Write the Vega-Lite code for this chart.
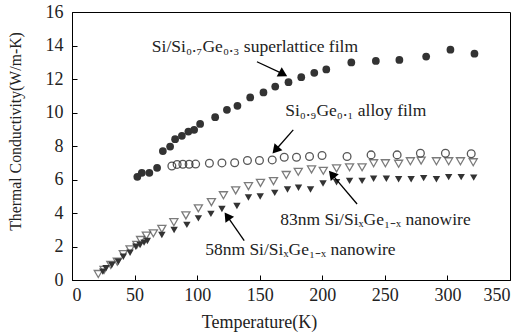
{
  "$schema": "https://vega.github.io/schema/vega-lite/v6.json",
  "width": 438,
  "height": 268,
  "autosize": "none",
  "padding": {"left": 72, "top": 12, "right": 14, "bottom": 52},
  "background": "white",
  "config": {
    "view": {"stroke": "#000", "strokeWidth": 1},
    "font": "Liberation Serif",
    "axis": {"grid": false, "domainColor": "#000", "tickColor": "#000", "labelColor": "#222", "titleColor": "#222", "labelFont": "Liberation Serif", "titleFont": "Liberation Serif", "labelFontSize": 18, "titleFontSize": 17, "titleFontWeight": "normal", "tickSize": -5, "labelPadding": 12}
  },
  "datasets": {
    "pts": [
      {"s": "SL", "T": 52.2, "k": 6.16}, {"s": "SL", "T": 55.8, "k": 6.4}, {"s": "SL", "T": 61.8, "k": 6.4}, {"s": "SL", "T": 68, "k": 6.7},
      {"s": "SL", "T": 72.6, "k": 7.7}, {"s": "SL", "T": 78.4, "k": 7.97}, {"s": "SL", "T": 82.4, "k": 8.41}, {"s": "SL", "T": 87.8, "k": 8.61},
      {"s": "SL", "T": 93, "k": 8.86}, {"s": "SL", "T": 97.6, "k": 8.97}, {"s": "SL", "T": 102.4, "k": 9.32}, {"s": "SL", "T": 114.4, "k": 9.72},
      {"s": "SL", "T": 123.8, "k": 10.16}, {"s": "SL", "T": 132.2, "k": 10.4}, {"s": "SL", "T": 142.4, "k": 10.9}, {"s": "SL", "T": 153, "k": 11.2},
      {"s": "SL", "T": 162.4, "k": 11.55}, {"s": "SL", "T": 173, "k": 11.81}, {"s": "SL", "T": 183.2, "k": 12.11}, {"s": "SL", "T": 193.6, "k": 12.37},
      {"s": "SL", "T": 203.2, "k": 12.57}, {"s": "SL", "T": 223.2, "k": 12.99}, {"s": "SL", "T": 242.8, "k": 13.08}, {"s": "SL", "T": 261.6, "k": 13.14},
      {"s": "SL", "T": 283, "k": 13.34}, {"s": "SL", "T": 302.4, "k": 13.75}, {"s": "SL", "T": 321.6, "k": 13.51},
      {"s": "AL", "T": 79.8, "k": 6.81}, {"s": "AL", "T": 84, "k": 6.9}, {"s": "AL", "T": 88.6, "k": 6.91}, {"s": "AL", "T": 93.6, "k": 6.91},
      {"s": "AL", "T": 98.8, "k": 6.92}, {"s": "AL", "T": 109.8, "k": 6.97}, {"s": "AL", "T": 119.8, "k": 6.99}, {"s": "AL", "T": 130, "k": 7.0},
      {"s": "AL", "T": 140.2, "k": 7.13}, {"s": "AL", "T": 149.8, "k": 7.13}, {"s": "AL", "T": 160, "k": 7.17}, {"s": "AL", "T": 169.6, "k": 7.33},
      {"s": "AL", "T": 179.4, "k": 7.33}, {"s": "AL", "T": 189.8, "k": 7.37}, {"s": "AL", "T": 199.8, "k": 7.43}, {"s": "AL", "T": 219.8, "k": 7.37},
      {"s": "AL", "T": 239, "k": 7.47}, {"s": "AL", "T": 259.8, "k": 7.47}, {"s": "AL", "T": 278.4, "k": 7.57}, {"s": "AL", "T": 298.4, "k": 7.57},
      {"s": "AL", "T": 319, "k": 7.54},
      {"s": "N83", "T": 21, "k": 0.36}, {"s": "N83", "T": 25.6, "k": 0.6}, {"s": "N83", "T": 31, "k": 0.9}, {"s": "N83", "T": 36.2, "k": 1.09},
      {"s": "N83", "T": 41, "k": 1.55}, {"s": "N83", "T": 46.4, "k": 1.83}, {"s": "N83", "T": 51.8, "k": 2.1}, {"s": "N83", "T": 54.8, "k": 2.39},
      {"s": "N83", "T": 59.4, "k": 2.65}, {"s": "N83", "T": 65, "k": 2.79}, {"s": "N83", "T": 71.8, "k": 3.05}, {"s": "N83", "T": 81.4, "k": 3.45},
      {"s": "N83", "T": 91, "k": 3.86}, {"s": "N83", "T": 101, "k": 4.28}, {"s": "N83", "T": 111.4, "k": 4.65}, {"s": "N83", "T": 121, "k": 5.06},
      {"s": "N83", "T": 130.8, "k": 5.35}, {"s": "N83", "T": 141, "k": 5.6}, {"s": "N83", "T": 150.6, "k": 5.8}, {"s": "N83", "T": 161, "k": 5.9},
      {"s": "N83", "T": 171.2, "k": 6.27}, {"s": "N83", "T": 180.8, "k": 6.46}, {"s": "N83", "T": 191.4, "k": 6.6}, {"s": "N83", "T": 200.8, "k": 6.52},
      {"s": "N83", "T": 211.4, "k": 6.66}, {"s": "N83", "T": 221.8, "k": 6.73}, {"s": "N83", "T": 231.8, "k": 6.73}, {"s": "N83", "T": 241, "k": 6.97},
      {"s": "N83", "T": 250.4, "k": 6.97}, {"s": "N83", "T": 261, "k": 6.94}, {"s": "N83", "T": 270.4, "k": 7.09}, {"s": "N83", "T": 279, "k": 7.13},
      {"s": "N83", "T": 291.2, "k": 7.09}, {"s": "N83", "T": 301, "k": 7.09}, {"s": "N83", "T": 310.4, "k": 7.09}, {"s": "N83", "T": 320.6, "k": 7.03},
      {"s": "N58", "T": 24.6, "k": 0.5}, {"s": "N58", "T": 27.2, "k": 0.7}, {"s": "N58", "T": 31.8, "k": 0.9}, {"s": "N58", "T": 37, "k": 1.09},
      {"s": "N58", "T": 41, "k": 1.39}, {"s": "N58", "T": 46.4, "k": 1.63}, {"s": "N58", "T": 51, "k": 1.99}, {"s": "N58", "T": 54.4, "k": 2.09},
      {"s": "N58", "T": 57.6, "k": 2.23}, {"s": "N58", "T": 60.2, "k": 2.33}, {"s": "N58", "T": 71.8, "k": 2.69}, {"s": "N58", "T": 81.6, "k": 2.99},
      {"s": "N58", "T": 91.8, "k": 3.29}, {"s": "N58", "T": 101, "k": 3.68}, {"s": "N58", "T": 111, "k": 3.95}, {"s": "N58", "T": 119.8, "k": 4.24},
      {"s": "N58", "T": 131.8, "k": 4.42}, {"s": "N58", "T": 141, "k": 4.93}, {"s": "N58", "T": 150.4, "k": 4.98}, {"s": "N58", "T": 162, "k": 5.2},
      {"s": "N58", "T": 172.2, "k": 5.4}, {"s": "N58", "T": 181, "k": 5.51}, {"s": "N58", "T": 190.6, "k": 5.4}, {"s": "N58", "T": 200.6, "k": 5.76},
      {"s": "N58", "T": 211.4, "k": 5.84}, {"s": "N58", "T": 221.8, "k": 5.92}, {"s": "N58", "T": 231.8, "k": 5.92}, {"s": "N58", "T": 241, "k": 6.04},
      {"s": "N58", "T": 251.2, "k": 6.04}, {"s": "N58", "T": 261, "k": 6.02}, {"s": "N58", "T": 271, "k": 6.02}, {"s": "N58", "T": 281, "k": 6.08},
      {"s": "N58", "T": 291.2, "k": 6.02}, {"s": "N58", "T": 301, "k": 6.14}, {"s": "N58", "T": 311, "k": 6.14}, {"s": "N58", "T": 321, "k": 6.11}
    ],
    "arrows": [
      {"a": "SL", "T": 147.8, "k": 13.03, "T2": 167.7, "k2": 12.34},
      {"a": "AL", "T": 176.8, "k": 8.96, "T2": 163.4, "k2": 7.82},
      {"a": "N83", "T": 227.8, "k": 4.54, "T2": 208.4, "k2": 6.25},
      {"a": "N58", "T": 137.6, "k": 2.35, "T2": 124.7, "k2": 3.74}
    ],
    "labels": [
      {"T": 63.8, "k": 13.93, "text": "Si/Si₀.₇Ge₀.₃ superlattice film"},
      {"T": 170.4, "k": 10.06, "text": "Si₀.₉Ge₀.₁ alloy film"},
      {"T": 166.4, "k": 3.59, "text": "83nm Si/SiₓGe₁₋ₓ nanowire"},
      {"T": 106.4, "k": 1.79, "text": "58nm Si/SiₓGe₁₋ₓ nanowire"}
    ]
  },
  "encoding": {
    "x": {"field": "T", "type": "quantitative", "scale": {"domain": [0, 350], "nice": false}, "axis": {"values": [0, 50, 100, 150, 200, 250, 300, 350], "title": "Temperature(K)", "titleFont": "Liberation Serif", "labelFont": "Liberation Serif", "titleFontSize": 18, "titleX": 187, "titleY": 33, "titleBaseline": "top", "labelPadding": 11}},
    "y": {"field": "k", "type": "quantitative", "scale": {"domain": [0, 16], "nice": false}, "axis": {"values": [0, 2, 4, 6, 8, 10, 12, 14, 16], "title": "Thermal Conductivity(W/m-K)", "titleFont": "Liberation Serif", "labelFont": "Liberation Serif", "titleFontSize": 15.8, "titleX": -57, "titleY": 119, "titleAnchor": "middle", "titleBaseline": "middle", "labelPadding": 14}}
  },
  "layer": [
    {"data": {"name": "pts"}, "transform": [{"filter": "datum.s === 'AL'"}], "mark": {"type": "point", "shape": "circle", "filled": false, "stroke": "#111", "strokeWidth": 1.3, "size": 60}},
    {"data": {"name": "pts"}, "transform": [{"filter": "datum.s === 'N83'"}], "mark": {"type": "point", "shape": "triangle-down", "filled": false, "stroke": "#444", "strokeWidth": 1.3, "size": 65}},
    {"data": {"name": "pts"}, "transform": [{"filter": "datum.s === 'N58'"}], "mark": {"type": "point", "shape": "triangle-down", "filled": true, "fill": "#333", "opacity": 1, "size": 55}},
    {"data": {"name": "pts"}, "transform": [{"filter": "datum.s === 'SL'"}], "mark": {"type": "point", "shape": "circle", "filled": true, "fill": "#333", "opacity": 1, "size": 60}},
    {"data": {"name": "arrows"}, "mark": {"type": "rule", "color": "#000", "strokeWidth": 1.3}, "encoding": {"x2": {"field": "T2"}, "y2": {"field": "k2"}}},
    {"data": {"name": "arrows"}, "transform": [{"filter": "datum.a === 'SL'"}], "mark": {"type": "point", "shape": "triangle", "filled": true, "fill": "#000", "opacity": 1, "size": 110, "angle": 118.6}, "encoding": {"x": {"field": "T2", "type": "quantitative"}, "y": {"field": "k2", "type": "quantitative"}}},
    {"data": {"name": "arrows"}, "transform": [{"filter": "datum.a === 'AL'"}], "mark": {"type": "point", "shape": "triangle", "filled": true, "fill": "#000", "opacity": 1, "size": 110, "angle": 221}, "encoding": {"x": {"field": "T2", "type": "quantitative"}, "y": {"field": "k2", "type": "quantitative"}}},
    {"data": {"name": "arrows"}, "transform": [{"filter": "datum.a === 'N83'"}], "mark": {"type": "point", "shape": "triangle", "filled": true, "fill": "#000", "opacity": 1, "size": 110, "angle": 319.7}, "encoding": {"x": {"field": "T2", "type": "quantitative"}, "y": {"field": "k2", "type": "quantitative"}}},
    {"data": {"name": "arrows"}, "transform": [{"filter": "datum.a === 'N58'"}], "mark": {"type": "point", "shape": "triangle", "filled": true, "fill": "#000", "opacity": 1, "size": 110, "angle": 325.3}, "encoding": {"x": {"field": "T2", "type": "quantitative"}, "y": {"field": "k2", "type": "quantitative"}}},
    {"data": {"name": "labels"}, "mark": {"type": "text", "align": "left", "baseline": "middle", "font": "Liberation Serif", "fontSize": 17.5, "color": "#222"}, "encoding": {"text": {"field": "text"}}}
  ]
}
